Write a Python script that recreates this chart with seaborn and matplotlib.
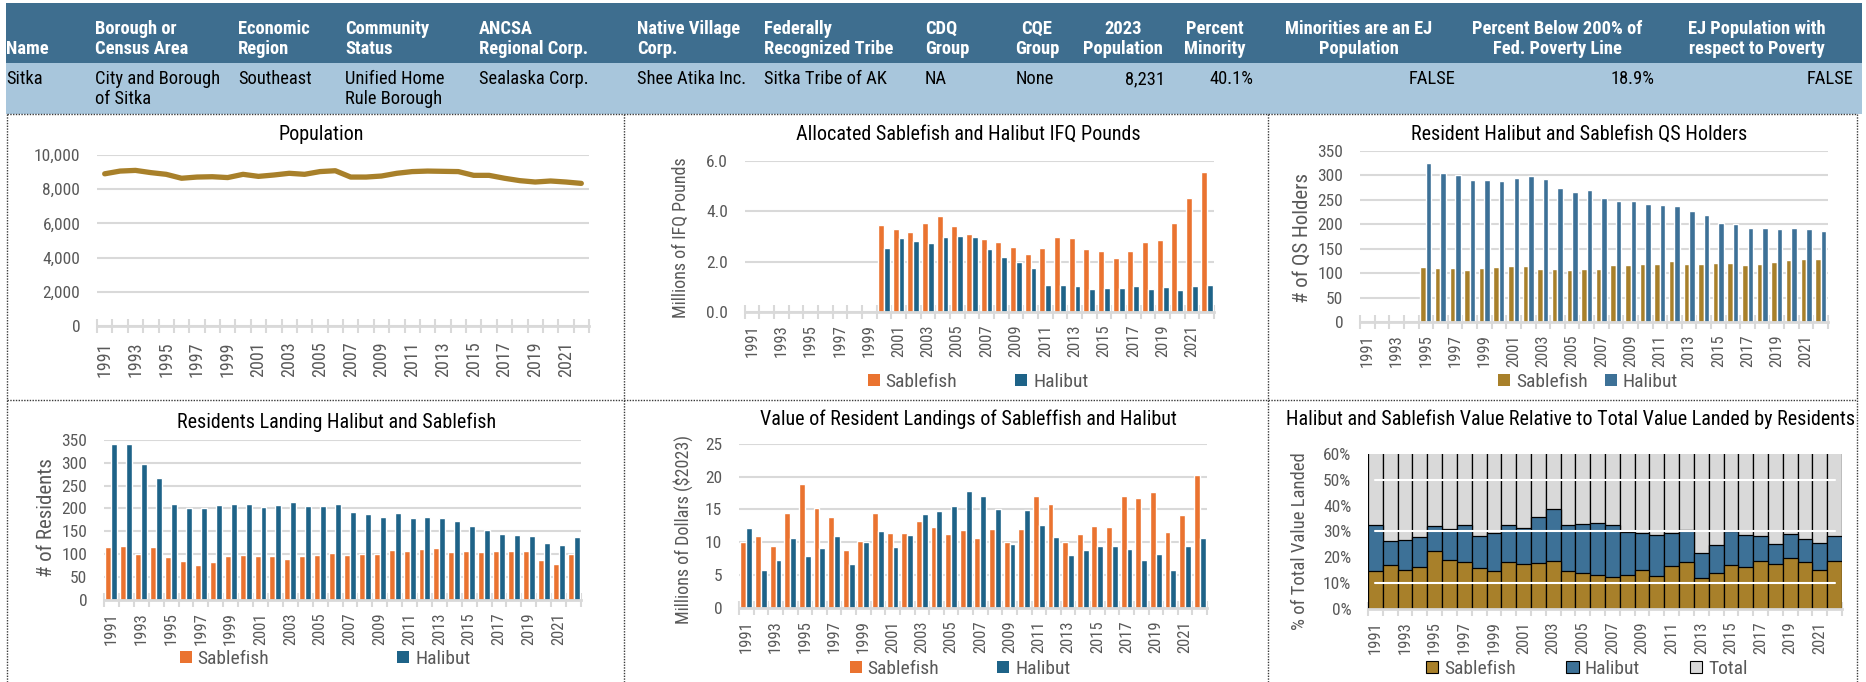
import numpy as np
import pandas as pd
import matplotlib
matplotlib.use("Agg")
import matplotlib.pyplot as plt
import seaborn as sns
from matplotlib import font_manager
from matplotlib.patches import Patch, Rectangle
from matplotlib.ticker import FuncFormatter

nan = np.nan

# ---------------- data ----------------
years = [1991, 1992, 1993, 1994, 1995, 1996, 1997, 1998, 1999, 2000,
         2001, 2002, 2003, 2004, 2005, 2006, 2007, 2008, 2009, 2010,
         2011, 2012, 2013, 2014, 2015, 2016, 2017, 2018, 2019, 2020,
         2021, 2022]
year_labels = [str(y) for y in years]

population = [8900, 9060, 9100, 8970, 8870, 8640, 8710, 8730, 8680, 8870,
              8750, 8830, 8930, 8870, 9030, 9080, 8710, 8710, 8770, 8930,
              9030, 9060, 9045, 9030, 8810, 8810, 8640, 8500, 8420, 8480,
              8420, 8340]

ifq_sablefish = [nan, nan, nan, nan, nan, nan, nan, nan, nan,
                 3.44, 3.28, 3.19, 3.54, 3.80, 3.43, 3.11, 2.90, 2.77, 2.56,
                 2.31, 2.52, 2.97, 2.93, 2.51, 2.40, 2.14, 2.41, 2.77, 2.84,
                 3.54, 4.51, 5.54]
ifq_halibut = [nan, nan, nan, nan, nan, nan, nan, nan, nan,
               2.53, 2.92, 2.81, 2.74, 2.99, 3.02, 2.99, 2.49, 2.19, 1.99,
               1.75, 1.09, 1.08, 1.04, 0.92, 0.96, 0.96, 1.03, 0.91, 0.99,
               0.88, 1.03, 1.07]

qs_sablefish = [nan, nan, nan, nan,
                112, 111, 111, 107, 111, 112, 114, 115, 109, 109,
                107, 109, 108, 116, 116, 118, 119, 124, 119, 118,
                120, 120, 117, 118, 122, 126, 128, 128]
qs_halibut = [nan, nan, nan, nan,
              324, 305, 300, 290, 290, 288, 294, 298, 292, 274,
              266, 270, 253, 248, 247, 241, 240, 237, 227, 219,
              203, 200, 192, 192, 190, 192, 190, 185]

res_sablefish = [116, 118, 100, 115, 94, 85, 76, 82, 95, 99,
                 96, 95, 90, 96, 99, 103, 99, 100, 100, 109,
                 106, 111, 113, 104, 108, 104, 108, 107, 108, 87,
                 78, 100]
res_halibut = [340, 341, 298, 266, 210, 201, 201, 207, 210, 210,
               203, 208, 215, 205, 205, 210, 193, 187, 182, 189,
               180, 182, 180, 173, 162, 152, 144, 141, 140, 124,
               119, 138]

val_sablefish = [10.0, 10.9, 9.4, 14.4, 18.8, 15.2, 13.8, 8.9, 10.2, 14.5,
                 11.4, 11.4, 13.2, 12.3, 11.3, 11.9, 10.6, 12.0, 10.0, 12.0,
                 17.1, 15.9, 10.1, 11.3, 12.5, 12.3, 17.1, 16.8, 17.7, 11.5,
                 14.2, 20.2]
val_halibut = [12.2, 5.8, 7.3, 10.6, 7.9, 9.2, 11.0, 6.7, 10.0, 11.7,
               9.3, 11.1, 14.3, 14.8, 15.5, 17.8, 17.0, 15.0, 9.7, 14.9,
               12.7, 10.8, 8.1, 8.9, 9.4, 9.5, 9.0, 7.3, 8.2, 5.8,
               9.4, 10.6]

pct_sablefish = [14.5, 16.9, 14.9, 16.0, 22.2, 19.0, 18.0, 15.9, 14.7, 18.0,
                 17.2, 17.8, 18.6, 14.5, 13.7, 13.2, 12.4, 13.2, 14.9, 12.5,
                 16.7, 18.0, 11.8, 13.8, 16.8, 16.0, 18.4, 17.3, 19.7, 18.0,
                 15.1, 18.4]
pct_halibut = [18.1, 9.5, 11.9, 11.8, 9.7, 11.8, 14.3, 12.2, 14.5, 14.3,
               14.2, 17.6, 20.2, 17.8, 19.1, 20.0, 20.2, 16.7, 14.6, 15.9,
               12.5, 12.4, 9.9, 11.0, 13.5, 12.7, 9.9, 7.9, 9.4, 9.0,
               10.2, 9.7]

header_labels = ["Name", "Borough or\nCensus Area", "Economic\nRegion", "Community\nStatus",
                 "ANCSA\nRegional Corp.", "Native Village\nCorp.", "Federally\nRecognized Tribe",
                 "CDQ\nGroup", "CQE\nGroup", "2023\nPopulation", "Percent\nMinority",
                 "Minorities are an EJ\nPopulation", "Percent Below 200% of\nFed. Poverty Line",
                 "EJ Population with\nrespect to Poverty"]
row_values = ["Sitka", "City and Borough\nof Sitka", "Southeast", "Unified Home\nRule Borough",
              "Sealaska Corp.", "Shee Atika Inc.", "Sitka Tribe of AK", "NA", "None",
              "8,231", "40.1%", "FALSE", "18.9%", "FALSE"]

# ---------------- layout / style ----------------
header_x = [6, 95, 238, 345, 479, 637, 764, 925, 1037, 1123, 1215, 1359, 1557, 1757]
header_ha = ["left"] * 8 + ["center"] * 6
value_x = [6, 95, 238, 345, 479, 637, 764, 925, 1016, 1165, 1254, 1456, 1654, 1853]
value_ha = ["left"] * 9 + ["right"] * 5

ORANGE = "#EA7330"
TEAL = "#1E6388"
GOLD = "#A8802A"
STEEL = "#3D7197"
GREY_BAR = "#D9D9D9"
HEAD_DARK = "#3E6E8F"
HEAD_LIGHT = "#A8C6DC"
TICK_C = "#595959"
GRID_C = "#D9D9D9"

sns.set_theme(style="white")
avail = {f.name for f in font_manager.fontManager.ttflist}
narrow = None
for cand in ["Liberation Sans Narrow", "Arial Narrow", "Roboto Condensed"]:
    if cand in avail:
        narrow = cand
        break
if narrow is None:
    plt.rcParams["font.family"] = ["DejaVu Sans"]
    plt.rcParams["font.stretch"] = "condensed"
else:
    plt.rcParams["font.family"] = [narrow, "DejaVu Sans"]

W, H = 1866, 682
fig = plt.figure(figsize=(W / 100, H / 100), dpi=100)
bg = fig.add_axes([0, 0, 1, 1])
bg.set_xlim(0, W)
bg.set_ylim(H, 0)
bg.axis("off")

# header table
bg.add_patch(Rectangle((6, 3), 1856, 60, color=HEAD_DARK, lw=0))
bg.add_patch(Rectangle((6, 63), 1856, 51, color=HEAD_LIGHT, lw=0))
for lab, x, ha in zip(header_labels, header_x, header_ha):
    bg.text(x, 58, lab, ha=ha, va="bottom", color="white", fontsize=13.3,
            fontweight="bold", linespacing=1.15, multialignment=ha)
for val, x, ha in zip(row_values, value_x, value_ha):
    bg.text(x, 70, val, ha=ha, va="top", color="black", fontsize=13.3,
            linespacing=1.15)

# panel borders (dotted)
bstyle = dict(color="#3a3a3a", lw=1, ls=(0, (1, 1)))
for x in [7, 624, 1268, 1857]:
    bg.plot([x, x], [114, 682], **bstyle)
for y in [114, 400]:
    bg.plot([7, 1857], [y, y], **bstyle)


def make_ax(x0, x1, yt, yb):
    ax = fig.add_axes([x0 / W, 1 - yb / H, (x1 - x0) / W, (yb - yt) / H])
    ax.set_facecolor("none")
    return ax


def style_ax(ax, grid=True, xsize=12, xpad=9):
    for s in ["left", "right", "top"]:
        ax.spines[s].set_visible(False)
    ax.spines["bottom"].set_color(GRID_C)
    ax.spines["bottom"].set_linewidth(2)
    ax.spines["bottom"].set_zorder(4)
    if grid:
        ax.yaxis.grid(True, color=GRID_C, lw=1.5)
    ax.xaxis.grid(False)
    ax.set_axisbelow(True)
    ax.tick_params(axis="y", length=0, pad=12, labelsize=12.5, labelcolor=TICK_C)
    ax.tick_params(axis="x", which="major", length=0, pad=xpad, labelsize=xsize,
                   labelcolor=TICK_C, labelrotation=90)
    ax.tick_params(axis="x", which="minor", length=10, width=1.5, color=GRID_C,
                   direction="inout", bottom=True)
    ax.set_xlabel("")
    ax.set_ylabel("")


def cat_axis(ax):
    n = len(year_labels)
    ax.set_xlim(-0.5, n - 0.5)
    ax.set_xticks(range(0, n, 2))
    ax.set_xticklabels(year_labels[::2])
    ax.set_xticks(np.arange(-0.5, n, 1.0), minor=True)


def grouped(ax, s1, s2, c1, c2, width=0.8):
    df = pd.DataFrame({
        "year": year_labels * 2,
        "series": ["Sablefish"] * len(year_labels) + ["Halibut"] * len(year_labels),
        "value": list(s1) + list(s2),
    })
    sns.barplot(data=df, x="year", y="value", hue="series", order=year_labels,
                hue_order=["Sablefish", "Halibut"], palette=[c1, c2], width=width,
                gap=0, saturation=1, errorbar=None, legend=False, ax=ax)


def legend_at(cx, cy, labels, colors, spacing, edge=None):
    handles = [Patch(facecolor=c, edgecolor=(edge if edge else "none"), lw=0.8) for c in colors]
    fig.legend(handles, labels, loc="center", bbox_to_anchor=(cx / W, 1 - cy / H),
               ncol=len(labels), frameon=False, fontsize=14, handlelength=0.62,
               handleheight=0.62, handletextpad=0.3, columnspacing=spacing,
               labelcolor=TICK_C, borderaxespad=0, borderpad=0)


def title_at(cx, cy, txt):
    bg.text(cx, cy, txt, ha="center", va="center", fontsize=14.5, color="black")


def ylabel_at(cx, cy, txt, size):
    bg.text(cx, cy, txt, ha="center", va="center", rotation=90, fontsize=size, color=TICK_C)


# ---- Panel 1: Population ----
ax1 = make_ax(97, 589, 155, 326)
sns.lineplot(x=years, y=population, color=GOLD, lw=3.8, ax=ax1, solid_capstyle="round")
style_ax(ax1, xsize=13, xpad=11)
ax1.set_xlim(years[0] - 0.5, years[-1] + 0.5)
ax1.set_xticks(years[::2])
ax1.set_xticklabels(year_labels[::2])
ax1.set_xticks(np.arange(years[0] - 0.5, years[-1] + 1, 1.0), minor=True)
ax1.set_ylim(0, 10000)
ax1.set_yticks(range(0, 10001, 2000))
ax1.yaxis.set_major_formatter(FuncFormatter(lambda v, p: f"{int(v):,}"))
title_at(321, 135, "Population")

# ---- Panel 2: IFQ pounds ----
ax2 = make_ax(744.5, 1214, 160.7, 312)
grouped(ax2, ifq_sablefish, ifq_halibut, ORANGE, TEAL)
style_ax(ax2)
cat_axis(ax2)
ax2.set_ylim(0, 6)
ax2.set_yticks([0, 2, 4, 6])
ax2.yaxis.set_major_formatter(FuncFormatter(lambda v, p: f"{v:.1f}"))
title_at(968, 134, "Allocated Sablefish and Halibut IFQ Pounds")
ylabel_at(681, 238, "Millions of IFQ Pounds", 13)
legend_at(978, 382, ["Sablefish", "Halibut"], [ORANGE, TEAL], 3.0)

# ---- Panel 3: QS holders ----
ax3 = make_ax(1360, 1828, 150.7, 322)
grouped(ax3, qs_sablefish, qs_halibut, GOLD, STEEL, width=0.75)
style_ax(ax3)
cat_axis(ax3)
ax3.set_ylim(0, 350)
ax3.set_yticks(range(0, 351, 50))
title_at(1579, 134, "Resident Halibut and Sablefish QS Holders")
ylabel_at(1302, 238, "# of QS Holders", 15)
legend_at(1588, 382, ["Sablefish", "Halibut"], [GOLD, STEEL], 0.9)

# ---- Panel 4: Residents landing ----
ax4 = make_ax(104, 581, 439.7, 600)
grouped(ax4, res_sablefish, res_halibut, ORANGE, TEAL)
style_ax(ax4)
cat_axis(ax4)
ax4.set_ylim(0, 350)
ax4.set_yticks(range(0, 351, 50))
title_at(337, 422, "Residents Landing Halibut and Sablefish")
ylabel_at(46, 518, "# of Residents", 15)
legend_at(325, 659, ["Sablefish", "Halibut"], [ORANGE, TEAL], 6.6)

# ---- Panel 5: Value ----
ax5 = make_ax(739, 1207, 443.7, 608)
grouped(ax5, val_sablefish, val_halibut, ORANGE, TEAL)
style_ax(ax5)
cat_axis(ax5)
ax5.set_ylim(0, 25)
ax5.set_yticks(range(0, 26, 5))
title_at(968, 419, "Value of Resident Landings of Sableffish and Halibut")
ylabel_at(683, 530, "Millions of Dollars ($2023)", 13)
legend_at(960, 669, ["Sablefish", "Halibut"], [ORANGE, TEAL], 3.0)

# ---- Panel 6: share of total value ----
ax6 = make_ax(1368, 1842, 454, 608.7)
pct_top = [s + h for s, h in zip(pct_sablefish, pct_halibut)]
pct_total = [100.0] * len(year_labels)
for vals, col in [(pct_total, GREY_BAR), (pct_top, STEEL), (pct_sablefish, GOLD)]:
    sns.barplot(x=year_labels, y=vals, order=year_labels, color=col, width=1.0,
                saturation=1, errorbar=None, edgecolor="black", linewidth=0.9, ax=ax6)
style_ax(ax6, grid=False)
cat_axis(ax6)
ax6.set_ylim(0, 60)
ax6.set_yticks(range(0, 61, 10))
ax6.yaxis.set_major_formatter(FuncFormatter(lambda v, p: f"{int(v)}%"))
for gy in [10, 30, 50]:
    ax6.axhline(gy, xmin=0.015, xmax=0.985, color="white", lw=1.5, zorder=6)
title_at(1571, 419, "Halibut and Sablefish Value Relative to Total Value Landed by Residents")
ylabel_at(1300, 541, "% of Total Value Landed", 13.5)
legend_at(1587, 669, ["Sablefish", "Halibut", "Total"], [GOLD, STEEL, GREY_BAR], 2.6, edge="black")

fig.savefig("out.png", dpi=100)
